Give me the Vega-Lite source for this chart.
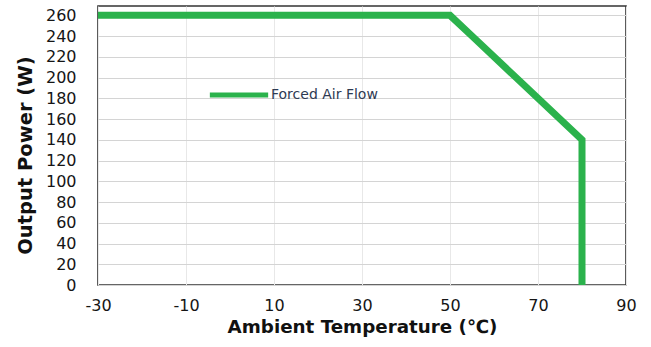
{
  "$schema": "https://vega.github.io/schema/vega-lite/v6.json",
  "autosize": "none",
  "width": 528,
  "height": 279,
  "padding": {"left": 98, "top": 6, "right": 25, "bottom": 62},
  "background": "white",
  "config": {
    "font": "DejaVu Sans",
    "view": {"stroke": "#333333", "strokeWidth": 1.6},
    "axis": {
      "grid": true,
      "gridColor": "#d4d4d4",
      "gridWidth": 1,
      "domain": false,
      "ticks": false,
      "labelFont": "DejaVu Sans",
      "labelFontSize": 16,
      "labelColor": "#151515",
      "labelOverlap": false,
      "labelFlush": false,
      "titleColor": "#111111",
      "titleFontWeight": "bold",
      "titleFont": "DejaVu Sans"
    }
  },
  "data": {
    "values": [
      {"t": -30, "p": 260, "series": "Forced Air Flow"},
      {"t": 50, "p": 260, "series": "Forced Air Flow"},
      {"t": 55, "p": 240, "series": "Forced Air Flow"},
      {"t": 65, "p": 200, "series": "Forced Air Flow"},
      {"t": 75, "p": 160, "series": "Forced Air Flow"},
      {"t": 80, "p": 140, "series": "Forced Air Flow"},
      {"t": 80, "p": 0, "series": "Forced Air Flow"}
    ]
  },
  "mark": {"type": "line", "strokeWidth": 7, "strokeJoin": "miter", "strokeCap": "butt"},
  "encoding": {
    "order": {"field": "row", "type": "quantitative"},
    "x": {
      "field": "t",
      "type": "quantitative",
      "scale": {"domain": [-30, 90], "nice": false, "zero": false},
      "axis": {
        "values": [-30, -10, 10, 30, 50, 70, 90],
        "labelExpr": "'' + datum.value",
        "title": "Ambient Temperature (℃)",
        "titleFontSize": 18.3,
        "labelPadding": 12,
        "titlePadding": 5,
        "gridColor": "#e8e8e8"
      }
    },
    "y": {
      "field": "p",
      "type": "quantitative",
      "scale": {"domain": [0, 269], "nice": false},
      "axis": {
        "values": [0, 20, 40, 60, 80, 100, 120, 140, 160, 180, 200, 220, 240, 260],
        "title": "Output Power (W)",
        "titleFontSize": 19.5,
        "titleY": 149,
        "labelPadding": 22,
        "titlePadding": 10
      }
    },
    "color": {
      "field": "series",
      "type": "nominal",
      "scale": {"range": ["#2bb24c"]},
      "legend": {
        "title": null,
        "orient": "none",
        "legendX": 109,
        "legendY": 57,
        "symbolType": "stroke",
        "symbolSize": 3400,
        "symbolStrokeWidth": 5,
        "labelFont": "DejaVu Sans",
        "labelFontSize": 14,
        "labelColor": "#2e3a52",
        "labelOffset": 0
      }
    }
  }
}
